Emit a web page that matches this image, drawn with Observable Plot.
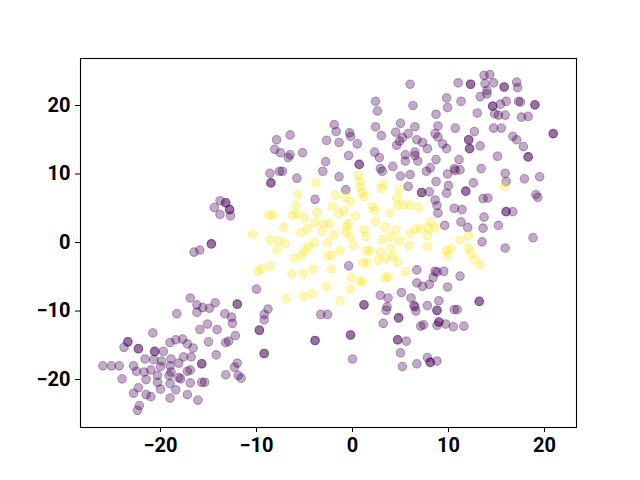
<!DOCTYPE html>
<html>
<head>
<meta charset="utf-8">
<script src="https://cdn.jsdelivr.net/npm/d3@7"></script>
<script src="https://cdn.jsdelivr.net/npm/@observablehq/plot@0.6"></script>
<style>
  html, body { margin: 0; padding: 0; background: white; }
</style>
</head>
<body>
<div id="chart"></div>
<script>
// Class 0 (purple) points
const purpleX = [
  -16.9,-16.2,-15.6,-14.9,-14.3,-16.2,-18.3,-15.1,-15.9,-20.8,-23.4,-23.4,-23.8,-22.3,-22.3,-20.6,-20.6,-19.7,-19.0,-18.4,
  -17.7,-17.2,-16.6,-15.0,-21.6,-20.7,-19.9,-18.9,-18.1,-17.6,-16.8,-15.7,-15.7,-26.0,-25.1,-24.3,-22.8,-22.5,-21.7,-21.0,
  -20.0,-19.0,-18.9,-20.3,-19.1,-18.1,-17.2,-16.9,-24.0,-21.5,-20.3,-17.9,-16.9,-15.7,-15.4,-20.0,-19.0,-18.4,-22.3,-22.8,
  -21.5,-21.0,-19.0,-17.2,-16.1,-22.2,-22.4,
  -13.3,-12.6,-12.5,-14.1,-12.2,-12.9,-13.2,-14.2,-12.0,-12.3,-11.9,-11.6,-13.2,-12.0,-12.0,-8.8,-9.2,-9.2,-9.7,-9.7,
  -9.2,-9.2,-3.9,-3.9,-3.3,-2.6,-10.0,
  -16.5,-15.9,-14.7,-14.7,
  -13.8,-13.2,-13.2,-14.4,-12.8,-12.8,-13.8,-12.7,
  -6.5,-7.9,-8.1,-7.5,-6.5,-6.7,-5.2,-2.7,-2.8,-3.1,-8.6,-7.6,-7.3,-8.5,-8.5,-5.8,-3.9,
  6.0,2.4,2.6,6.3,8.7,9.8,9.9,-1.9,-1.7,-0.3,-0.2,-1.4,0.5,2.4,3.0,5.0,4.5,6.5,5.8,5.2,
  4.9,4.6,6.7,7.3,8.9,8.6,8.9,9.4,9.8,7.8,2.3,2.8,-0.4,0.7,0.7,2.9,3.1,4.2,5.5,6.5,
  5.5,6.5,6.8,8.7,8.1,7.7,6.0,5.0,8.7,9.9,5.8,7.2,7.2,8.0,8.6,9.8,-1.4,-0.7,
  8.8,8.9,9.6,-0.4,6.7,8.6,8.8,9.5,8.4,6.7,7.3,8.0,9.9,2.9,3.7,5.1,6.1,1.2,1.2,3.6,
  6.4,6.5,7.8,9.0,
  3.5,4.8,4.8,3.2,-0.2,-0.2,4.7,4.7,5.6,5.0,5.2,6.7,7.8,8.1,8.1,8.8,0.0,6.6,8.8,8.8,
  7.1,7.4,8.8,9.0,9.0,9.7,
  13.7,14.3,11.0,12.3,12.3,13.8,14.7,15.8,15.8,17.1,17.2,14.0,14.0,13.3,11.3,14.6,14.6,15.4,16.0,17.3,
  17.5,19.0,19.0,13.0,14.8,15.2,15.9,17.6,18.3,10.7,12.7,14.7,15.5,16.7,17.1,20.9,20.9,12.1,12.1,12.2,
  12.2,13.3,17.8,18.3,18.3,15.1,11.1,10.6,10.7,11.2,13.4,
  15.9,16.0,17.9,19.5,10.0,12.6,11.8,11.8,13.6,14.1,19.1,19.3,10.6,11.4,16.0,16.0,16.7,13.7,11.3,12.0,
  13.6,15.2,18.8,13.5,15.9,
  11.2,13.2,13.2,10.6,10.9,10.5,11.6
];
const purpleY = [
  -8.1,-9.1,-9.5,-9.6,-8.8,-10.2,-10.4,-11.9,-12.7,-13.2,-14.5,-14.5,-15.3,-15.5,-15.5,-15.9,-15.9,-15.9,-14.6,-14.2,
  -14.1,-14.8,-15.4,-14.5,-17.0,-17.1,-17.3,-17.0,-17.6,-16.7,-16.7,-17.7,-17.7,-18.0,-18.0,-18.0,-18.0,-18.8,-18.9,-18.6,
  -18.1,-18.0,-18.9,-19.4,-19.4,-19.7,-18.8,-18.6,-19.9,-20.0,-20.4,-19.9,-20.5,-20.4,-20.4,-21.4,-20.6,-21.5,-21.2,-22.0,
  -22.2,-22.5,-22.7,-22.2,-23.0,-23.8,-24.5,
  -10.4,-10.9,-11.8,-12.7,-13.6,-14.4,-14.6,-16.4,-17.6,-18.2,-19.4,-19.8,-19.3,-9.0,-9.0,-9.7,-10.5,-11.3,-12.8,-12.8,
  -16.2,-16.2,-14.3,-14.3,-10.5,-10.5,-6.8,
  -1.4,-1.1,-0.2,-0.2,
  6.1,5.8,5.8,5.1,4.8,4.8,4.1,3.9,
  15.7,15.0,13.6,13.1,12.8,12.4,13.1,14.9,11.8,10.4,10.1,10.4,10.4,8.7,8.7,9.4,6.3,
  23.1,20.6,19.2,20.0,18.7,21.1,19.7,17.2,16.2,16.0,15.5,14.6,14.4,16.9,15.6,17.4,16.1,16.9,15.9,15.3,
  14.8,14.2,15.0,14.6,17.0,15.9,15.4,14.4,13.7,13.7,13.2,12.4,12.7,11.4,11.4,10.8,10.4,11.1,12.8,13.2,
  11.9,12.7,11.9,12.1,10.9,10.4,9.9,9.7,8.9,10.0,8.2,7.3,7.3,7.4,6.2,7.2,9.6,7.7,
  5.4,4.3,2.5,-3.4,-4.0,-4.2,-4.3,-4.2,-5.1,-5.9,-6.4,-6.1,-6.5,-7.7,-8.1,-7.3,-8.1,-9.1,-9.1,-9.4,
  -9.2,-9.4,-9.2,-8.5,
  -9.9,-11.0,-11.0,-11.8,-13.5,-13.5,-14.2,-14.2,-14.4,-16.1,-18.1,-17.7,-16.8,-17.5,-17.5,-17.3,-17.0,-10.0,-9.9,-9.9,
  -12.2,-12.0,-12.1,-11.6,-11.6,-11.9,
  24.4,24.5,23.3,23.1,23.1,23.2,23.3,22.7,22.7,23.4,22.6,22.2,21.7,21.3,20.6,19.9,19.9,20.2,20.6,20.6,
  20.5,20.1,20.1,18.9,18.8,18.6,18.6,18.3,18.4,16.7,16.2,16.7,16.7,15.5,15.0,15.9,15.9,15.0,15.0,13.7,
  13.7,14.1,14.0,12.5,12.5,12.6,12.1,10.8,10.5,10.6,10.8,
  10.1,8.9,9.3,9.6,8.3,8.7,7.5,7.5,6.4,6.5,7.0,6.6,5.0,4.8,4.5,4.5,4.5,3.7,3.0,2.2,
  2.1,2.5,0.7,0.1,-0.8,
  -4.9,-8.6,-8.6,-9.8,-9.8,-12.3,-12.2
];
// Class 1 (yellow) points
const yellowX = [
  -3.8,-5.7,-5.9,-8.7,-8.3,-6.2,-5.8,-5.0,-3.7,-3.9,-3.0,-7.2,-4.7,-5.4,-3.2,-10.4,-8.6,-7.7,-7.0,-7.9,
  -4.0,-4.6,-5.0,-5.3,-6.0,-2.6,-2.6,-8.6,-9.5,-9.8,-6.3,-5.1,-4.1,-2.2,-2.7,-5.1,-4.2,-6.9,
  0.6,0.8,0.8,1.0,1.2,3.2,3.0,4.9,4.6,-1.8,-0.7,
  -2.1,-0.2,-0.9,-1.4,0.3,2.1,2.3,3.9,4.7,5.3,6.0,6.9,-2.4,-0.4,-0.6,-0.7,-1.9,-0.2,1.2,1.4,
  2.4,3.4,4.5,4.0,3.1,4.9,6.0,6.6,7.1,7.9,8.1,8.6,7.8,5.9,7.8,0.1,-1.3,-2.2,1.5,1.8,
  2.9,4.0,4.2,3.5,4.7,2.7,1.1,1.5,-0.1,0.8,1.0,-0.2,3.4,3.7,5.5,-1.3,9.8,
  15.8,11.2,12.1,10.3,9.9,12.1,12.3,12.7,13.3
];
const yellowY = [
  8.7,7.0,5.4,4.0,4.0,3.9,4.2,3.6,4.4,2.9,2.7,2.2,2.0,1.4,1.6,1.2,0.4,0.2,-0.2,-1.1,
  0.0,-0.6,-1.2,-1.9,-2.3,0.0,-2.0,-3.5,-3.8,-4.2,-4.6,-4.6,-3.9,-3.9,-6.4,-7.9,-7.5,-8.2,
  9.8,8.9,8.1,7.3,6.7,8.4,7.9,7.7,6.5,6.9,6.6,
  5.2,5.9,4.6,4.2,3.9,5.2,4.7,4.3,5.4,5.5,5.5,5.1,2.7,2.8,2.3,1.5,1.1,0.8,1.9,0.9,
  3.1,2.2,1.8,0.8,0.4,0.2,1.3,2.0,1.9,2.1,3.0,2.1,1.0,-0.4,-0.6,-0.4,-1.2,-1.8,-1.2,-1.2,
  -1.4,-0.9,-2.1,-2.4,-2.9,-2.6,-3.0,-2.9,-5.1,-5.6,-5.8,-6.8,-5.2,-5.0,-4.3,-8.5,-1.2,
  8.2,0.4,1.0,-0.9,-1.9,-0.8,-1.6,-2.5,-3.3
];
const classNames = ["0", "1"];
const classColors = ["#440154", "#fde725"];
const xTicks = [-20, -10, 0, 10, 20];
const yTicks = [-20, -10, 0, 10, 20];

const data = [
  ...purpleX.map((x, i) => ({x, y: purpleY[i], c: classNames[0]})),
  ...yellowX.map((x, i) => ({x, y: yellowY[i], c: classNames[1]}))
];

const fmt = d3.format("d");
const chart = Plot.plot({
  width: 640,
  height: 480,
  marginLeft: 80,
  marginRight: 64,
  marginTop: 58,
  marginBottom: 53,
  style: {
    fontFamily: "Roboto",
    fontSize: "20px",
    fontWeight: "bold",
    color: "black",
    background: "white"
  },
  x: {domain: [-28.33, 23.33], ticks: xTicks, tickSize: 5, tickPadding: 5, tickFormat: fmt, label: null},
  y: {domain: [-27.0, 26.86], ticks: yTicks, tickSize: 5, tickPadding: 5, tickFormat: fmt, label: null},
  color: {domain: classNames, range: classColors},
  marks: [
    Plot.dot(data, {x: "x", y: "y", fill: "c", stroke: "c", r: 4.3, fillOpacity: 0.33, strokeOpacity: 0.33, strokeWidth: 1.1}),
    Plot.frame({stroke: "black", strokeWidth: 1.1})
  ]
});
document.getElementById("chart").appendChild(chart);
</script>
</body>
</html>
